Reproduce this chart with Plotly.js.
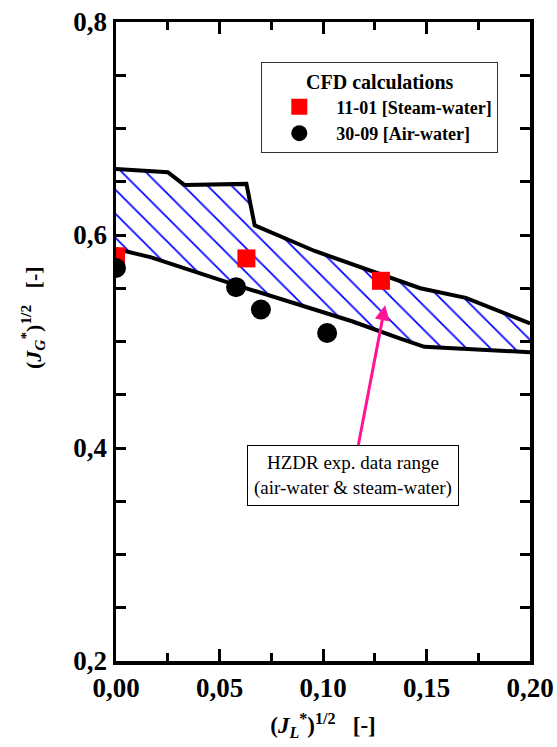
<!DOCTYPE html>
<html>
<head>
<meta charset="utf-8">
<script src="https://cdn.plot.ly/plotly-3.0.1.min.js"></script>
<style>html,body{margin:0;padding:0;background:#fff;}#chart{width:557px;height:747px;}</style>
</head>
<body>
<div id="chart"></div>
<script>
// Upper boundary of HZDR experimental data range
const upperX = [0, 0.025, 0.033, 0.063, 0.067, 0.096, 0.147, 0.169, 0.20];
const upperY = [0.662, 0.659, 0.647, 0.648, 0.609, 0.585, 0.550, 0.541, 0.517];
// Lower boundary
const lowerX = [0, 0.017, 0.058, 0.114, 0.137, 0.149, 0.20];
const lowerY = [0.587, 0.579, 0.553, 0.519, 0.503, 0.495, 0.490];
// CFD calculations
const steamX = [0.0, 0.063, 0.128];
const steamY = [0.580, 0.578, 0.557];
const airX = [0.0, 0.058, 0.070, 0.102];
const airY = [0.569, 0.551, 0.530, 0.508];

const xTickVals = [0, 0.05, 0.10, 0.15, 0.20];
const xTickText = ["0,00", "0,05", "0,10", "0,15", "0,20"];
const yTickVals = [0.2, 0.4, 0.6, 0.8];
const yTickText = ["0,2", "0,4", "0,6", "0,8"];

const serif = "Liberation Serif, Times New Roman, serif";

const polyX = upperX.concat(lowerX.slice().reverse());
const polyY = upperY.concat(lowerY.slice().reverse());

const traces = [
  {x: polyX, y: polyY, mode: "none", fill: "toself", fillcolor: "#ffffff",
   fillpattern: {shape: "\\", size: 17, solidity: 0.1, fgcolor: "#0000ff", bgcolor: "#ffffff", fgopacity: 1},
   showlegend: false, hoverinfo: "skip"},
  {x: upperX, y: upperY, mode: "lines", line: {color: "#000", width: 4}, showlegend: false},
  {x: lowerX, y: lowerY, mode: "lines", line: {color: "#000", width: 4}, showlegend: false},
  {x: steamX, y: steamY, mode: "markers", name: "<b>11-01 [Steam-water]</b>",
   marker: {symbol: "square", size: 18, color: "#ff0000"}},
  {x: airX, y: airY, mode: "markers", name: "<b>30-09 [Air-water]</b>",
   marker: {symbol: "circle", size: 20, color: "#000000"}}
];

const layout = {
  width: 557, height: 747,
  margin: {l: 116, r: 27, t: 22, b: 86},
  paper_bgcolor: "#fff", plot_bgcolor: "#fff",
  separators: ",.",
  font: {family: serif, color: "#000"},
  showlegend: true,
  legend: {
    x: 0.351, y: 0.938, xanchor: "left", yanchor: "top",
    bordercolor: "#333", borderwidth: 1, bgcolor: "#fff",
    font: {family: serif, size: 18, color: "#000"},
    title: {text: "<b>CFD calculations</b>", side: "top center", font: {family: serif, size: 20}},
    tracegroupgap: 0, itemsizing: "trace", itemwidth: 64
  },
  xaxis: {
    range: [0, 0.2], showgrid: false, zeroline: false,
    showline: true, mirror: "allticks", linecolor: "#000", linewidth: 3.5,
    ticks: "inside", ticklen: 12, tickwidth: 3, tickcolor: "#000",
    tickvals: xTickVals, ticktext: xTickText,
    tickfont: {family: serif, size: 27, weight: "bold"},
    minor: {dtick: 0.025, ticks: "inside", ticklen: 8, tickwidth: 3, tickcolor: "#000", showgrid: false},
    title: {text: "<b>(<i>J<sub>L</sub></i><sup>*</sup>)<sup>1/2</sup>   [-]</b>", font: {family: serif, size: 23}, standoff: 16}
  },
  yaxis: {
    range: [0.2, 0.8], showgrid: false, zeroline: false,
    showline: true, mirror: "allticks", linecolor: "#000", linewidth: 3.5,
    ticks: "inside", ticklen: 10, tickwidth: 3, tickcolor: "#000",
    tickvals: yTickVals, ticktext: yTickText,
    tickfont: {family: serif, size: 27, weight: "bold"},
    minor: {dtick: 0.05, ticks: "inside", ticklen: 10, tickwidth: 3, tickcolor: "#000", showgrid: false}
  },
  annotations: [
    {x: -0.2, y: 0.537, xref: "paper", yref: "paper", xanchor: "center", yanchor: "middle",
     showarrow: false, textangle: -90,
     text: "<b>(<i>J<sub>G</sub></i><sup>*</sup>)<sup>1/2</sup>   [-]</b>",
     font: {family: serif, size: 22, color: "#000"}},
    {x: 0.130, y: 0.534, xref: "x", yref: "y", axref: "x", ayref: "y",
     ax: 0.1143, ay: 0.3746, showarrow: true, arrowhead: 2, arrowsize: 1, arrowwidth: 3,
     arrowcolor: "#ff1493",
     text: "HZDR exp. data range<br>(air-water &amp; steam-water)",
     font: {family: serif, size: 19, color: "#000"},
     bordercolor: "#000", borderwidth: 1, borderpad: 6, bgcolor: "#fff"}
  ]
};

Plotly.newPlot("chart", traces, layout, {displayModeBar: false, staticPlot: true});
</script>
</body>
</html>
